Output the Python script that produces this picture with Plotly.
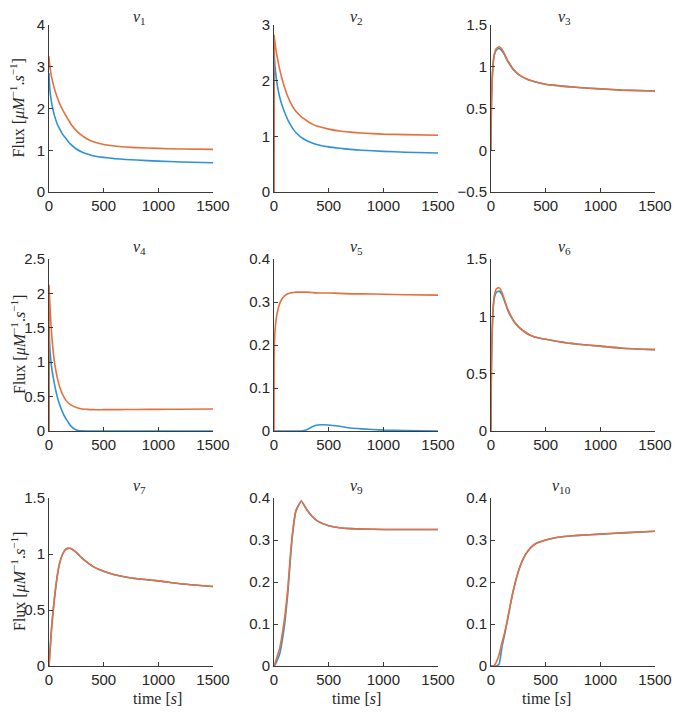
import plotly.graph_objects as go

# time grid [s]
time_s = [0, 1, 5, 10, 20, 30, 50, 75, 100, 125, 150, 175, 200, 250, 300,
          350, 400, 500, 600, 700, 800, 1000, 1200, 1500]

v1_blue = [2.85, 2.75, 2.55, 2.4, 2.2, 2.05, 1.83, 1.63, 1.5, 1.38, 1.3, 1.21,
           1.14, 1.03, 0.96, 0.91, 0.87, 0.83, 0.8, 0.78, 0.765, 0.74, 0.72, 0.70]
v1_orange = [3.25, 3.2, 3.08, 2.97, 2.8, 2.68, 2.47, 2.27, 2.1, 1.97, 1.85, 1.74,
             1.63, 1.47, 1.355, 1.27, 1.21, 1.14, 1.1, 1.077, 1.062, 1.045, 1.03, 1.02]

v2_blue = [0, 2.5, 2.38, 2.25, 2.05, 1.92, 1.72, 1.55, 1.42, 1.3, 1.21, 1.13,
           1.07, 0.98, 0.92, 0.88, 0.85, 0.81, 0.785, 0.765, 0.75, 0.73, 0.715, 0.70]
v2_orange = [0, 2.82, 2.75, 2.66, 2.52, 2.42, 2.22, 2.02, 1.86, 1.72, 1.61, 1.52,
             1.45, 1.35, 1.28, 1.22, 1.18, 1.13, 1.095, 1.075, 1.06, 1.04, 1.03, 1.02]

v3_blue = [0, 0.3, 0.6, 0.82, 1.04, 1.14, 1.2, 1.22, 1.19, 1.14, 1.07, 1.02,
           0.97, 0.91, 0.87, 0.84, 0.82, 0.79, 0.775, 0.762, 0.752, 0.735, 0.72, 0.71]
v3_orange = [0, 0.3, 0.6, 0.82, 1.05, 1.15, 1.22, 1.24, 1.21, 1.15, 1.08, 1.03,
             0.98, 0.91, 0.87, 0.84, 0.82, 0.79, 0.775, 0.762, 0.752, 0.735, 0.72, 0.71]

v4_blue = [0, 1.5, 1.3, 1.15, 0.98, 0.86, 0.68, 0.5, 0.37, 0.27, 0.19, 0.13,
           0.07, 0.015, 0.002, 0, 0, 0, 0, 0, 0, 0, 0, 0]
v4_orange = [0, 2.12, 1.95, 1.78, 1.5, 1.3, 1.0, 0.78, 0.63, 0.53, 0.46, 0.41,
             0.38, 0.34, 0.32, 0.315, 0.31, 0.31, 0.31, 0.312, 0.313, 0.315, 0.317, 0.32]

v5_blue = [0, 0, 0, 0, 0, 0, 0, 0, 0, 0, 0, 0, 0, 0,
           0.003, 0.01, 0.014, 0.014, 0.011, 0.007, 0.005, 0.002, 0.001, 0]
v5_orange = [0, 0.17, 0.21, 0.235, 0.26, 0.275, 0.295, 0.308, 0.315, 0.319, 0.321, 0.322,
             0.323, 0.323, 0.323, 0.322, 0.321, 0.321, 0.32, 0.319, 0.319, 0.318, 0.317, 0.316]

v6_blue = [0, 0.3, 0.62, 0.85, 1.07, 1.16, 1.21, 1.22, 1.19, 1.13, 1.06, 1.01,
           0.97, 0.91, 0.87, 0.84, 0.82, 0.8, 0.782, 0.768, 0.757, 0.74, 0.722, 0.71]
v6_orange = [0, 0.3, 0.62, 0.85, 1.08, 1.18, 1.24, 1.25, 1.21, 1.14, 1.07, 1.02,
             0.97, 0.91, 0.87, 0.84, 0.82, 0.8, 0.782, 0.768, 0.757, 0.74, 0.722, 0.71]

v7_blue = [0, 0.01, 0.08, 0.15, 0.3, 0.42, 0.61, 0.8, 0.93, 1.0, 1.04, 1.05,
           1.05, 1.015, 0.965, 0.925, 0.89, 0.845, 0.815, 0.795, 0.78, 0.76, 0.735, 0.71]
v7_orange = [0, 0.01, 0.07, 0.14, 0.28, 0.4, 0.6, 0.8, 0.93, 1.0, 1.04, 1.05,
             1.05, 1.015, 0.965, 0.925, 0.89, 0.845, 0.815, 0.795, 0.78, 0.76, 0.735, 0.71]

v9_blue = [0, 0, 0.001, 0.003, 0.008, 0.014, 0.027, 0.06, 0.105, 0.17, 0.255, 0.325,
           0.368, 0.393, 0.372, 0.356, 0.345, 0.334, 0.329, 0.327, 0.326, 0.325, 0.325, 0.325]
v9_orange = [0, 0, 0.003, 0.007, 0.015, 0.024, 0.04, 0.075, 0.12, 0.18, 0.265, 0.33,
             0.37, 0.393, 0.372, 0.356, 0.345, 0.334, 0.329, 0.327, 0.326, 0.325, 0.325, 0.325]

v10_blue = [0, 0, 0, 0, 0, 0, 0, 0.005, 0.045, 0.075, 0.108, 0.143,
            0.175, 0.225, 0.258, 0.278, 0.29, 0.3, 0.306, 0.309, 0.311, 0.314, 0.317, 0.321]
v10_orange = [0, 0, 0, 0, 0, 0.002, 0.01, 0.028, 0.055, 0.08, 0.11, 0.143,
              0.175, 0.225, 0.258, 0.278, 0.29, 0.3, 0.306, 0.309, 0.311, 0.314, 0.317, 0.321]

panel_names = ["1", "2", "3", "4", "5", "6", "7", "9", "10"]
blue_series = [v1_blue, v2_blue, v3_blue, v4_blue, v5_blue, v6_blue, v7_blue, v9_blue, v10_blue]
orange_series = [v1_orange, v2_orange, v3_orange, v4_orange, v5_orange, v6_orange,
                 v7_orange, v9_orange, v10_orange]
y_ranges = [[0, 4], [0, 3], [-0.5, 1.5], [0, 2.5], [0, 0.4], [0, 1.5], [0, 1.5], [0, 0.4], [0, 0.4]]
y_dticks = [1, 1, 0.5, 0.5, 0.1, 0.5, 0.5, 0.1, 0.1]
x_ticks = [0, 500, 1000, 1500]

BLUE = "#2f92d6"
ORANGE = "#e5703e"
AXIS = "#3a3a3a"
OFF = 8  # the page body has an 8px margin, keep the figure inside the window
W, H = 680 - 2 * OFF, 715 - 2 * OFF

# pixel boxes of the panels in the window (left, right) / (top, bottom)
col_px = [(49, 213), (274, 438), (491, 655)]
row_px = [(25, 192), (259, 431), (498, 666)]


def px_x(p):
    return (p - OFF) / W


def px_y(p):
    return 1 - (p - OFF) / H


fig = go.Figure()
annotations = []

for i, name in enumerate(panel_names):
    r, c = divmod(i, 3)
    ax = "" if i == 0 else str(i + 1)
    x0, x1 = col_px[c]
    top, bot = row_px[r]
    xdom = [px_x(x0), px_x(x1)]
    ydom = [px_y(bot), px_y(top)]

    for vals, col in [(blue_series[i], BLUE), (orange_series[i], ORANGE)]:
        fig.add_trace(go.Scatter(
            x=time_s, y=vals, mode="lines",
            line=dict(color=col, width=1.6, shape="spline", smoothing=0.4),
            xaxis="x" + ax, yaxis="y" + ax, showlegend=False,
            hoverinfo="x+y",
        ))

    common = dict(
        showgrid=False, zeroline=False, showline=True, linecolor=AXIS, linewidth=1,
        ticks="inside", ticklen=4, tickcolor=AXIS, tickwidth=1, automargin=False,
        tickfont=dict(family="Liberation Sans, Arial", size=15, color="#262626"),
        ticklabelstandoff=0,
    )
    fig.update_layout({
        "xaxis" + ax: dict(domain=xdom, range=[0, 1500], tickvals=x_ticks,
                           anchor="y" + ax, **common),
        "yaxis" + ax: dict(domain=ydom, range=y_ranges[i], dtick=y_dticks[i],
                           tick0=y_ranges[i][0], anchor="x" + ax, **common),
    })

    # panel title
    title_y = 17 if r == 0 else top - 12
    annotations.append(dict(
        text=f"<i>v</i><sub>{name}</sub>", xref="paper", yref="paper",
        x=(xdom[0] + xdom[1]) / 2, y=px_y(title_y), yanchor="middle",
        showarrow=False,
        font=dict(family="Liberation Serif, Times New Roman", size=16, color="#262626"),
    ))

    if c == 0:
        annotations.append(dict(
            text="Flux [<i>μM</i><sup>−1</sup>.<i>s</i><sup>−1</sup>]",
            xref="paper", yref="paper", x=px_x(18), y=(ydom[0] + ydom[1]) / 2,
            textangle=-90, showarrow=False, xanchor="center", yanchor="middle",
            font=dict(family="Liberation Serif, Times New Roman", size=16, color="#262626"),
        ))
    if r == 2:
        annotations.append(dict(
            text="time [<i>s</i>]", xref="paper", yref="paper",
            x=(xdom[0] + xdom[1]) / 2, y=px_y(698), yanchor="middle",
            showarrow=False,
            font=dict(family="Liberation Serif, Times New Roman", size=16, color="#262626"),
        ))

fig.update_layout(
    width=W, height=H,
    margin=dict(l=0, r=0, t=0, b=0, autoexpand=False),
    paper_bgcolor="white", plot_bgcolor="white",
    annotations=annotations,
    showlegend=False,
)

fig.write_html("out.html")
